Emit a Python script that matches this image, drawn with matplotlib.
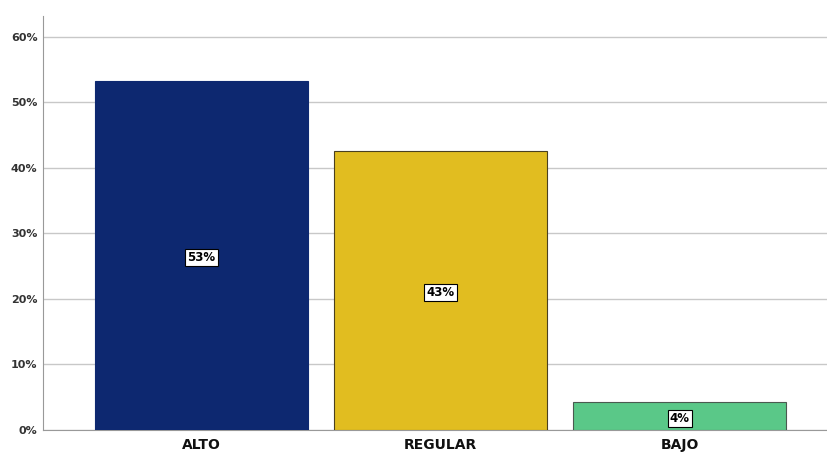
import matplotlib
matplotlib.use("Agg")
import matplotlib.pyplot as plt
from matplotlib.ticker import FuncFormatter

categories = ["ALTO", "REGULAR", "BAJO"]
values = [53.2, 42.6, 4.2]
labels = ["53%", "43%", "4%"]
colors = ["#0D2870", "#E1BD20", "#5AC888"]
edges = ["#0D2870", "#4a4020", "#4a5a50"]

fig = plt.figure(figsize=(8.28, 4.54), dpi=100)
ax = fig.add_axes([0.052, 0.053, 0.948, 0.912])

x = range(len(categories))
bars = ax.bar(x, values, width=0.89, color=colors, edgecolor=edges, linewidth=0.8, zorder=3)
for i, (v, lab) in enumerate(zip(values, labels)):
    ax.text(i, v / 2 - 0.3, lab, ha="center", va="center", fontsize=8.5, fontweight="bold",
            color="black", zorder=4,
            bbox=dict(boxstyle="square,pad=0.18", facecolor="white", edgecolor="black", linewidth=0.8))

ax.set_xlim(-0.663, 2.62)
ax.set_ylim(0, 63.2)
ax.set_yticks([0, 10, 20, 30, 40, 50, 60])
ax.yaxis.set_major_formatter(FuncFormatter(lambda v, p: f"{int(v)}%"))
ax.set_xticks(list(x))
ax.set_xticklabels(categories, fontsize=10, fontweight="bold", color="#111111")
for t in ax.get_yticklabels():
    t.set_fontsize(8)
    t.set_fontweight("bold")
    t.set_color("#333333")
ax.tick_params(axis="both", length=0, pad=4)
ax.tick_params(axis="x", pad=6)
ax.grid(axis="y", color="#c8c8c8", linewidth=1, zorder=0)
for s in ["top", "right"]:
    ax.spines[s].set_visible(False)
ax.spines["left"].set_color("#999999")
ax.spines["bottom"].set_color("#999999")

fig.savefig("out.png", dpi=100)
